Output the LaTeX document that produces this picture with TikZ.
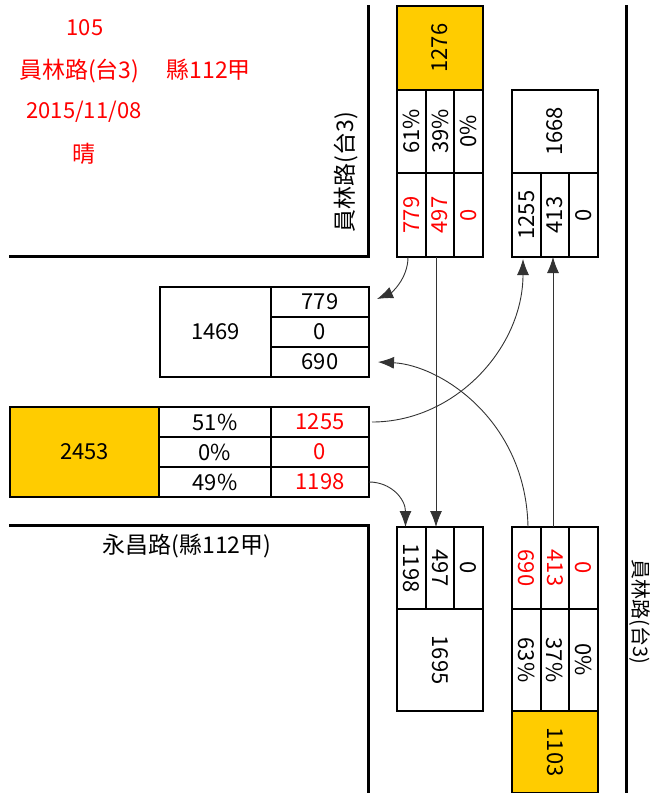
\documentclass[tikz,border=0pt]{standalone}
\usepackage{fontspec}
\setmainfont{Noto Sans CJK TC}
\usetikzlibrary{arrows.meta,calc}
\definecolor{gold}{HTML}{FFCC00}
\definecolor{txtred}{HTML}{FF0000}
\newcommand{\cellbox}[7]{\node[cell,#6,minimum width={(#4-#2)*1pt},minimum height={(#5-#3)*1pt}] (#1) at ({(#2+#4)/2},{(#3+#5)/2}) {#7};}
\newcommand{\myup}[1]{\rotatebox{90}{#1}}
\newcommand{\mydn}[1]{\rotatebox{-90}{#1}}
\begin{document}
\begin{tikzpicture}[x=1pt,y=-1pt,
  font=\fontsize{22}{26}\selectfont,
  cell/.style={draw, line width=2.3pt, inner sep=0pt, outer sep=0pt, align=center},
  redtxt/.style={text=txtred},
  road/.style={line width=3pt},
  flow/.style={line width=0.9pt, draw=black!80, -{Latex[length=16pt,width=12pt]}},
  lbl/.style={inner sep=0pt},
  cjk/.style={font=\fontsize{23}{27}\selectfont}]
\useasboundingbox (0,0) rectangle (651,793);
% roads
\draw[road] (9,256) -- (368,256) -- (368,5);
\draw[road] (626,5) -- (626,793);
\draw[road] (9,525) -- (368,525) -- (368,793);
% header texts
\node[lbl,text=txtred] (t1) at (85,28) {105};
\node[lbl,cjk,text=txtred,anchor=west] (t2) at (19,71) {員林路(台3)\hspace{27pt}縣112甲};
\node[lbl,text=txtred] (t3) at (84,112) {2015/11/08};
\node[lbl,cjk,text=txtred] (t4) at (84,154) {晴};
% road names
\node[lbl,cjk,rotate=90] (r1) at (346,172) {員林路(台3)};
\node[lbl,rotate=-90,font=\fontsize{20}{24}\selectfont] (r2) at (639.5,612) {員林路(台3)};
\node[lbl,cjk] (r3) at (187,546) {永昌路(縣112甲)};
% north approach
\cellbox{N}{397}{6}{483}{90}{fill=gold}{\myup{1276}}
\cellbox{Np1}{397}{90}{426}{173}{}{\myup{61\%}}
\cellbox{Np2}{426}{90}{454}{173}{}{\myup{39\%}}
\cellbox{Np3}{454}{90}{483}{173}{}{\myup{0\%}}
\cellbox{Nc1}{397}{173}{426}{257}{redtxt}{\myup{779}}
\cellbox{Nc2}{426}{173}{454}{257}{redtxt}{\myup{497}}
\cellbox{Nc3}{454}{173}{483}{257}{redtxt}{\myup{0}}
% north exit
\cellbox{E}{512}{90}{598}{173}{}{\myup{1668}}
\cellbox{Ec1}{512}{173}{541}{257}{}{\myup{1255}}
\cellbox{Ec2}{541}{173}{569}{257}{}{\myup{413}}
\cellbox{Ec3}{569}{173}{598}{257}{}{\myup{0}}
% west exit
\cellbox{W}{160}{287}{271}{377}{}{1469}
\cellbox{Wc1}{271}{287}{369}{317}{}{779}
\cellbox{Wc2}{271}{317}{369}{347}{}{0}
\cellbox{Wc3}{271}{347}{369}{377}{}{690}
% west approach
\cellbox{A}{10}{407}{159}{497}{fill=gold}{2453}
\cellbox{Ap1}{159}{407}{271}{437}{}{51\%}
\cellbox{Ap2}{159}{437}{271}{467}{}{0\%}
\cellbox{Ap3}{159}{467}{271}{497}{}{49\%}
\cellbox{Ac1}{271}{407}{369}{437}{redtxt}{1255}
\cellbox{Ac2}{271}{437}{369}{467}{redtxt}{0}
\cellbox{Ac3}{271}{467}{369}{497}{redtxt}{1198}
% south exit
\cellbox{Sc1}{397}{527}{426}{609}{}{\mydn{1198}}
\cellbox{Sc2}{426}{527}{454}{609}{}{\mydn{497}}
\cellbox{Sc3}{454}{527}{483}{609}{}{\mydn{0}}
\cellbox{S}{397}{609}{483}{711}{}{\mydn{1695}}
% south approach
\cellbox{Bc1}{512}{527}{541}{609}{redtxt}{\mydn{690}}
\cellbox{Bc2}{541}{527}{569}{609}{redtxt}{\mydn{413}}
\cellbox{Bc3}{569}{527}{598}{609}{redtxt}{\mydn{0}}
\cellbox{Bp1}{512}{609}{541}{711}{}{\mydn{63\%}}
\cellbox{Bp2}{541}{609}{569}{711}{}{\mydn{37\%}}
\cellbox{Bp3}{569}{609}{598}{711}{}{\mydn{0\%}}
\cellbox{B}{512}{711}{598}{793}{fill=gold}{\mydn{1103}}
% flows
\draw[flow] ([xshift=-3.5pt]Nc1.south) .. controls +(0,22) and +(14,-6) .. ([xshift=8pt,yshift=3pt]Wc1.east);
\draw[flow] ([xshift=-4pt]Nc2.south) -- ([xshift=-4pt]Sc2.north);
\draw[flow] ([xshift=3pt]Ac1.east) .. controls +(83,0) and +(0,89) .. ([xshift=-3.5pt,yshift=-2pt]Ec1.south);
\draw[flow] (Ac3.east) .. controls +(22,0) and +(0,-28) .. ([xshift=-6pt]Sc1.north);
\draw[flow] ([xshift=1.5pt]Bc1.north) .. controls +(-2,-107) and +(62,3) .. ([xshift=9pt]Wc3.east);
\draw[flow] ([xshift=-2pt]Bc2.north) -- ([xshift=-2pt]Ec2.south);
\end{tikzpicture}
\end{document}
